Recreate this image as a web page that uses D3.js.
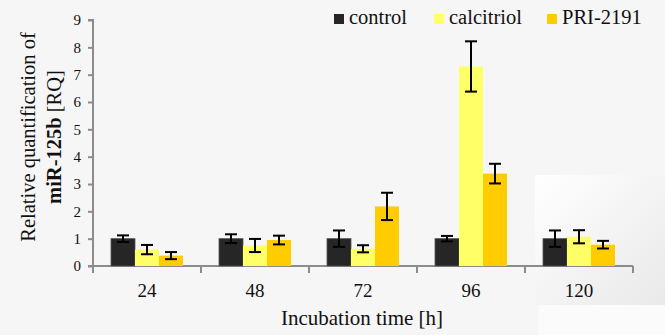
<!DOCTYPE html>
<html>
<head>
<meta charset="utf-8">
<script src="https://cdn.jsdelivr.net/npm/d3@7"></script>
<style>
  body { margin: 0; background: #f6f6f6; }
  svg { display: block; }
</style>
</head>
<body>
<svg id="chart" width="665" height="335"></svg>
<script>
const categories = ['24', '48', '72', '96', '120']
const seriesNames = ['control', 'calcitriol', 'PRI-2191']
const controlVals = [1.0, 1.0, 1.0, 1.0, 1.0]
const controlErr = [0.12, 0.16, 0.3, 0.1, 0.3]
const calcitriolVals = [0.6, 0.75, 0.63, 7.3, 1.07]
const calcitriolErr = [0.17, 0.24, 0.13, 0.92, 0.24]
const priVals = [0.38, 0.95, 2.18, 3.38, 0.78]
const priErr = [0.13, 0.16, 0.5, 0.36, 0.14]
const yTicks = [0, 1, 2, 3, 4, 5, 6, 7, 8, 9]
const colors = ['#262626', '#ffff66', '#ffcc00']

const FONT = 'Liberation Serif'
const svg = d3.select('#chart')

// light patch in the lower right corner of the original picture
const defs = svg.append('defs')
const grad = defs.append('linearGradient').attr('id', 'patch')
    .attr('x1', '0%').attr('y1', '0%').attr('x2', '100%').attr('y2', '100%')
grad.append('stop').attr('offset', '0%').attr('stop-color', '#ffffff')
grad.append('stop').attr('offset', '100%').attr('stop-color', '#e9e9e9')
svg.append('rect').attr('x', 535).attr('y', 175).attr('width', 130).attr('height', 130).attr('fill', 'url(#patch)')
svg.append('rect').attr('x', 539).attr('y', 305).attr('width', 126).attr('height', 30).attr('fill', '#fbfbfb')

const mLeft = 93, mRight = 633, mTop = 20, mBottom = 266

const x0 = d3.scaleBand().domain(categories).range([mLeft, mRight]).paddingInner(0).paddingOuter(0)
const x1 = d3.scaleBand().domain(seriesNames).range([0, x0.bandwidth()]).paddingInner(0).paddingOuter(0.75)
const y = d3.scaleLinear().domain([0, 9]).range([mBottom, mTop])

const series = [
    { name: 'control', vals: controlVals, err: controlErr },
    { name: 'calcitriol', vals: calcitriolVals, err: calcitriolErr },
    { name: 'PRI-2191', vals: priVals, err: priErr }
]

// axes
const yAxis = svg.append('g')
    .attr('transform', `translate(${mLeft},0)`)
    .call(d3.axisLeft(y).tickValues(yTicks).tickSize(5).tickPadding(7).tickFormat(d3.format('d')))
    .attr('font-family', FONT)
yAxis.selectAll('path, line').attr('stroke', '#8c8c8c').attr('stroke-width', 2)
yAxis.select('.domain').attr('d', `M-5,${mTop}H0V${mBottom}`)
yAxis.selectAll('text').attr('font-size', 15).attr('font-family', FONT).attr('fill', '#111')

const xAxis = svg.append('g')
    .attr('transform', `translate(0,${mBottom})`)
xAxis.append('line').attr('x1', mLeft - 5).attr('x2', mRight).attr('stroke', '#8c8c8c').attr('stroke-width', 2)
xAxis.selectAll('.tk')
    .data(categories.concat(['end']))
    .enter()
    .append('line')
    .attr('x1', (d, i) => i < categories.length ? x0(d) : mRight)
    .attr('x2', (d, i) => i < categories.length ? x0(d) : mRight)
    .attr('y1', 0).attr('y2', 7)
    .attr('stroke', '#8c8c8c').attr('stroke-width', 2)
xAxis.selectAll('.lbl')
    .data(categories)
    .enter()
    .append('text')
    .attr('x', d => x0(d) + x0.bandwidth() / 2)
    .attr('y', 31)
    .attr('text-anchor', 'middle')
    .attr('font-family', FONT)
    .attr('font-size', 19)
    .attr('fill', '#111')
    .text(d => d)

// bars
const groups = svg.append('g').selectAll('g')
    .data(series)
    .enter()
    .append('g')

groups.selectAll('rect')
    .data((s, si) => s.vals.map((v, i) => ({ cat: categories[i], v, e: s.err[i], name: s.name, si })))
    .enter()
    .append('rect')
    .attr('x', d => x0(d.cat) + x1(d.name))
    .attr('y', d => y(d.v))
    .attr('width', x1.bandwidth())
    .attr('height', d => y(0) - y(d.v))
    .attr('fill', d => colors[d.si])
    .attr('stroke', d => d.si === 0 ? '#555' : 'none')
    .attr('stroke-width', 0.8)

// error bars
const errs = groups.selectAll('g.err')
    .data((s, si) => s.vals.map((v, i) => ({ cat: categories[i], v, e: s.err[i], name: s.name })))
    .enter()
    .append('g')
    .attr('class', 'err')
    .attr('transform', d => `translate(${x0(d.cat) + x1(d.name) + x1.bandwidth() / 2},0)`)
errs.append('line')
    .attr('y1', d => y(d.v + d.e)).attr('y2', d => y(d.v - d.e))
    .attr('stroke', '#000').attr('stroke-width', 2)
errs.append('line')
    .attr('x1', -6).attr('x2', 6)
    .attr('y1', d => y(d.v + d.e)).attr('y2', d => y(d.v + d.e))
    .attr('stroke', '#000').attr('stroke-width', 2)
errs.append('line')
    .attr('x1', -6).attr('x2', 6)
    .attr('y1', d => y(d.v - d.e)).attr('y2', d => y(d.v - d.e))
    .attr('stroke', '#000').attr('stroke-width', 2)

// axis titles
svg.append('text')
    .attr('x', 362)
    .attr('y', 325)
    .attr('text-anchor', 'middle')
    .attr('font-family', FONT)
    .attr('font-size', 21)
    .attr('fill', '#111')
    .text('Incubation time [h]')

const yTitle = svg.append('text')
    .attr('transform', 'translate(0,137) rotate(-90)')
    .attr('text-anchor', 'middle')
    .attr('font-family', FONT)
    .attr('font-size', 20.5)
    .attr('fill', '#111')
yTitle.append('tspan').attr('x', 0).attr('y', 35).text('Relative quantification of')
const l2 = yTitle.append('tspan').attr('x', 0).attr('y', 61)
l2.append('tspan').attr('font-weight', 'bold').text('miR-125b')
l2.append('tspan').text(' [RQ]')

// legend
const legendX = [334, 434, 547]
const legend = svg.append('g').selectAll('g')
    .data(seriesNames)
    .enter()
    .append('g')
    .attr('transform', (d, i) => `translate(${legendX[i]},14)`)
legend.append('rect').attr('width', 10).attr('height', 10).attr('fill', (d, i) => colors[i])
legend.append('text')
    .attr('x', 15).attr('y', 10)
    .attr('font-family', FONT)
    .attr('font-size', 20.5)
    .attr('fill', '#111')
    .text(d => d)
</script>
</body>
</html>
